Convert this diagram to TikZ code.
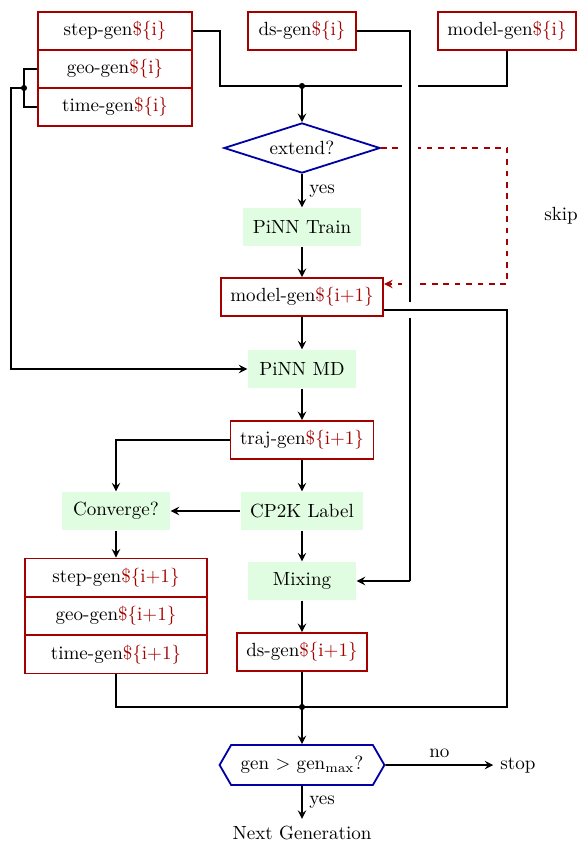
\documentclass[tikz,border=0pt]{standalone}
\usepackage{amsmath}
\usepackage[usenames,dvipsnames]{xcolor}
\usepackage{tikz}
\usetikzlibrary{positioning, shapes.geometric, shapes.symbols}

\definecolor{genred}{RGB}{165,0,0}
\definecolor{testblue}{RGB}{0,0,165}
\definecolor{workgreen}{RGB}{225,253,225}
\newcommand{\genidx}[1]{\textcolor{genred}{\$\{#1\}}}

\begin{document}
\begin{tikzpicture}[x=0.525pt, y=-0.525pt, >=stealth, line width=0.95pt,
  gen box/.style={rectangle,draw=genred,minimum width=56.5pt,minimum height=20pt,inner xsep=5pt},
  work box/.style={rectangle,fill=workgreen,minimum width=56.5pt,minimum height=19.6pt,inner xsep=5pt},
  test node/.style={draw=testblue},
  halo/.style={preaction={draw=white,line width=8.6pt}}]

\useasboundingbox (0,0) rectangle (582,844);

\node[gen box, minimum width=81.2pt] (stepA) at (115,31) {step-gen\genidx{i}};
\node[gen box, minimum width=81.2pt] (geoA) at (115,69) {geo-gen\genidx{i}};
\node[gen box, minimum width=81.2pt] (timeA) at (115,107) {time-gen\genidx{i}};
\node[gen box] (dsA) at (302,31) {ds-gen\genidx{i}};
\node[gen box] (modelA) at (507,31) {model-gen\genidx{i}};
\node[diamond, aspect=3, test node, minimum width=82pt, minimum height=26.3pt, inner sep=1pt] (extend) at (302,148) {extend?};
\node[work box] (train) at (302,227) {PiNN Train};
\node[gen box] (modelB) at (302,297) {model-gen\genidx{i+1}};
\node[work box] (md) at (302,369) {PiNN MD};
\node[gen box] (traj) at (302,440) {traj-gen\genidx{i+1}};
\node[work box] (conv) at (116,511) {Converge?};
\node[work box] (cp2k) at (302,511) {CP2K Label};
\node[gen box, minimum width=95.5pt] (stepB) at (116,577.5) {step-gen\genidx{i+1}};
\node[gen box, minimum width=95.5pt] (geoB) at (116,616) {geo-gen\genidx{i+1}};
\node[gen box, minimum width=95.5pt] (timeB) at (116,654.5) {time-gen\genidx{i+1}};
\node[work box] (mix) at (302,581) {Mixing};
\node[gen box] (dsB) at (302,652) {ds-gen\genidx{i+1}};
\node[signal, signal to=east and west, signal pointer angle=120, test node,
  minimum height=21pt, inner xsep=5pt] (hex) at (302,765) {gen $>$ gen$_{\max}$?};
\node (stop) at (518,765) {stop};
\node (next) at (302,833) {Next Generation};
\node (skip) at (561,216) {skip};

\coordinate (jTop) at (302,86);
\coordinate (jLeft) at (24,88);
\coordinate (jBot) at (302,707);
\coordinate (skipR) at (507,284);
\coordinate (dsMix) at (410,581);
\coordinate (botR) at (507,707);

% generation i
\draw (stepA.east) -- ++(27,0) |- (jTop);
\draw (modelA.south) |- (jTop);
\fill (jTop) circle (1.6pt);
\draw[->] (jTop) -- (extend.north);
\draw[->, dashed, genred] (extend.east) -| (skipR) -- (skipR -| modelB.east);
\draw[halo] (dsA.east) -| (dsMix);
\draw[->] (dsMix) -- (mix.east);
\draw (geoA.west) -| (jLeft) |- (timeA.west);
\fill (jLeft) circle (1.6pt);
\draw[->] (jLeft) -- ++(-13,0) |- (md.west);

% generation i+1
\draw[halo] ([yshift=-6.7pt]modelB.east) -| (botR) -- (jBot);
\draw[->] (traj.west) -| (conv.north);
\draw (timeB.south) |- (jBot);
\draw (dsB.south) -- (jBot);
\fill (jBot) circle (1.6pt);
\draw[->] (jBot) -- (hex.north);

\path[->]
(extend) edge node [right] {yes} (train)
(train) edge (modelB)
(modelB) edge (md)
(md) edge (traj)
(traj) edge (cp2k)
(cp2k) edge (mix)
(mix) edge (dsB)
(cp2k) edge (conv)
(conv) edge (stepB)
(hex) edge node [above] {no} (stop)
(hex) edge node [right] {yes} (next)
;

\end{tikzpicture}
\end{document}
